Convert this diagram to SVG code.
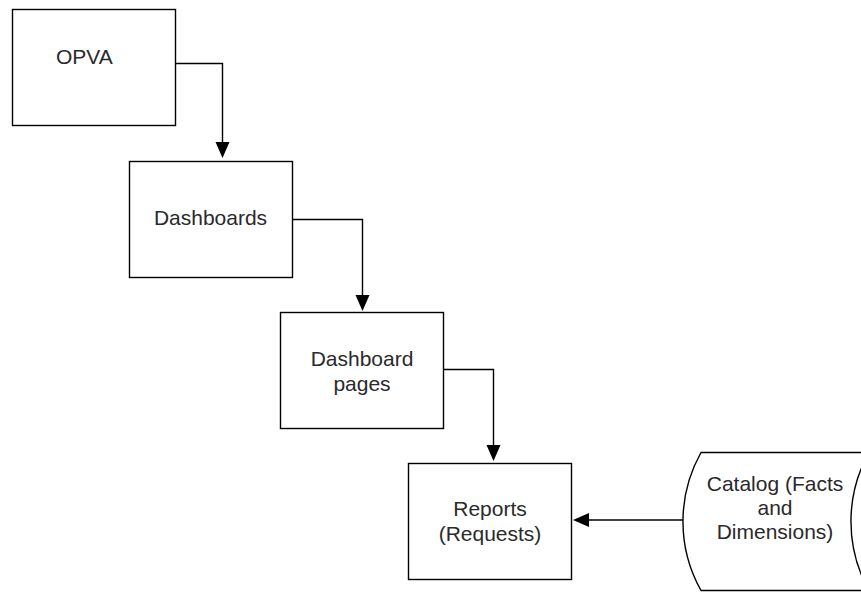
<svg xmlns="http://www.w3.org/2000/svg" width="861" height="592" viewBox="0 0 861 592">
<defs>
<style>
.box{fill:#fff;stroke:#000;stroke-width:1.4}
.t{font-family:"Liberation Sans",Arial,sans-serif;font-size:21px;fill:#2a2a2a}
.c{text-anchor:middle}
.ln{fill:none;stroke:#000;stroke-width:1.4}
.ah{fill:#000;stroke:none}
</style>
</defs>
<rect width="861" height="592" fill="#fff"/>
<g id="connectors">
<path class="ln" d="M175.5,63.5 H222.5 V145"/>
<polygon class="ah" points="215.5,142 229.5,142 222.5,158"/>
<path class="ln" d="M292.5,219.5 H362.5 V298"/>
<polygon class="ah" points="355.5,295 369.5,295 362.5,311"/>
<path class="ln" d="M443.5,369.5 H493.5 V448"/>
<polygon class="ah" points="486.5,445 500.5,445 493.5,461"/>
<path class="ln" d="M683,520 H587"/>
<polygon class="ah" points="589,513 589,527 573,520"/>
</g>
<g id="opva">
<rect class="box" x="12.5" y="9.5" width="163" height="116"/>
<text class="t" x="56" y="64">OPVA</text>
</g>
<g id="dashboards">
<rect class="box" x="129.5" y="161.5" width="163" height="116"/>
<text class="t c" x="210.5" y="225">Dashboards</text>
</g>
<g id="dashboard-pages">
<rect class="box" x="280.5" y="312.5" width="163" height="116"/>
<text class="t c" x="362" y="366">Dashboard</text>
<text class="t c" x="362" y="390.5">pages</text>
</g>
<g id="reports">
<rect class="box" x="408.5" y="463.5" width="163" height="116"/>
<text class="t c" x="490" y="516">Reports</text>
<text class="t c" x="490" y="541">(Requests)</text>
</g>
<g id="catalog">
<path class="box" d="M701,452.5 L869,452.5 A141,141 0 0 0 869,590.5 L701,590.5 A141,141 0 0 1 701,452.5 Z"/>
<text class="t c" x="775" y="491">Catalog (Facts</text>
<text class="t c" x="775" y="515">and</text>
<text class="t c" x="775" y="539">Dimensions)</text>
</g>
</svg>
